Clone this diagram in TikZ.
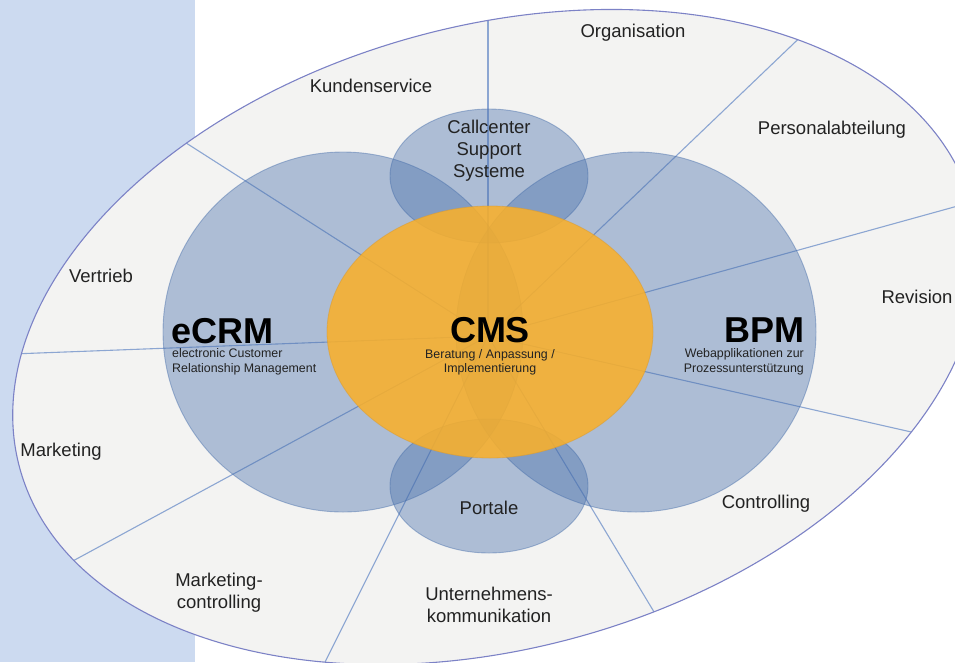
\documentclass[tikz,border=0pt]{standalone}
\usepackage{fontspec}
\setmainfont{Liberation Sans}
\definecolor{bandc}{HTML}{CCDAF0}
\definecolor{outerc}{HTML}{F3F3F2}
\definecolor{outerline}{HTML}{7C82C6}
\definecolor{spokec}{HTML}{8CA6D2}
\definecolor{bluec}{HTML}{466EAA}
\definecolor{orangec}{RGB}{251,176,40}
\definecolor{orangedk}{HTML}{D89A30}
\definecolor{txt}{HTML}{222222}
\begin{document}
\begin{tikzpicture}[x=1pt,y=-1pt,
  lbl/.style={font=\fontsize{18.5}{22}\selectfont, text=txt, align=center, inner sep=0pt},
  big/.style={font=\fontsize{36}{40}\selectfont\bfseries, text=black, inner sep=0pt, text depth=0pt},
  sub/.style={font=\fontsize{12.4}{15}\selectfont, text=txt, inner sep=0pt},
  spoke/.style={draw=spokec, line width=1.1pt},
  outershape/.style={rotate around={15.5:(496,337)}},
  bluecirc/.style={fill=bluec, fill opacity=0.4, draw=bluec, draw opacity=0.45, line width=0.9pt},
  cmsov/.style={fill=orangec, fill opacity=0.86, draw=orangedk, draw opacity=0.5, line width=0.8pt}]

\clip (0,0) rectangle (955,662);
\fill[bandc] (0,0) rectangle (195,662);

% outer ellipse
\path[fill=outerc, outershape] (496,337) ellipse [x radius=494pt, y radius=311pt];

% spokes
\begin{scope}
  \clip[outershape] (496,337) ellipse [x radius=494pt, y radius=311pt];
  \coordinate (c) at (488,336);
  \foreach \ex/\ey in {488/-80, 91.5/82.5, 883/-42, 1095/168, 1026/458, 701/690, 276/760, -49/627, -120/359}
    \draw[spoke] (c) -- (\ex,\ey);
\end{scope}
\path[draw=outerline, line width=1.1pt, outershape] (496,337) ellipse [x radius=494pt, y radius=311pt];

% blue circles
\path[bluecirc] (343,332) ellipse [x radius=180pt, y radius=180pt];
\path[bluecirc] (636,332) ellipse [x radius=180pt, y radius=180pt];
\path[bluecirc] (489,176) ellipse [x radius=99pt, y radius=67pt];
\path[bluecirc] (489,486) ellipse [x radius=99pt, y radius=67pt];

% CMS
\path[cmsov] (490,332) ellipse [x radius=163pt, y radius=126pt];

% labels
\node[lbl] (org) at (633,33) {Organisation};
\node[lbl] (kunden) at (371,86) {Kundenservice};
\node[lbl] (call) at (489,151) {Callcenter\\Support\\Systeme};
\node[lbl] (pers) at (832,130) {Personalabteilung};
\node[lbl] (vert) at (101,276) {Vertrieb};
\node[lbl] (rev) at (917,297) {Revision};
\node[lbl] (mark) at (61,452) {Marketing};
\node[lbl] (markc) at (219,593) {Marketing-\\controlling};
\node[lbl] (port) at (489,508) {Portale};
\node[lbl] (untern) at (489,605) {Unternehmens-\\kommunikation};
\node[lbl] (contr) at (766,504) {Controlling};

\node[big, anchor=base west] (ecrm) at (171,343) {eCRM};
\node[sub, anchor=base west] (ecrma) at (172,357) {electronic Customer};
\node[sub, anchor=base west] (ecrmb) at (172,372) {Relationship Management};

\node[big, anchor=base] (cms) at (490,342) {CMS};
\node[sub, anchor=base] (cmsa) at (490,358) {Beratung / Anpassung /};
\node[sub, anchor=base] (cmsb) at (490,372) {Implementierung};

\node[big, anchor=base east] (bpm) at (805,342) {BPM};
\node[sub, anchor=base east] (bpma) at (804,357) {Webapplikationen zur};
\node[sub, anchor=base east] (bpmb) at (804,372) {Prozessunterstützung};
\end{tikzpicture}
\end{document}
